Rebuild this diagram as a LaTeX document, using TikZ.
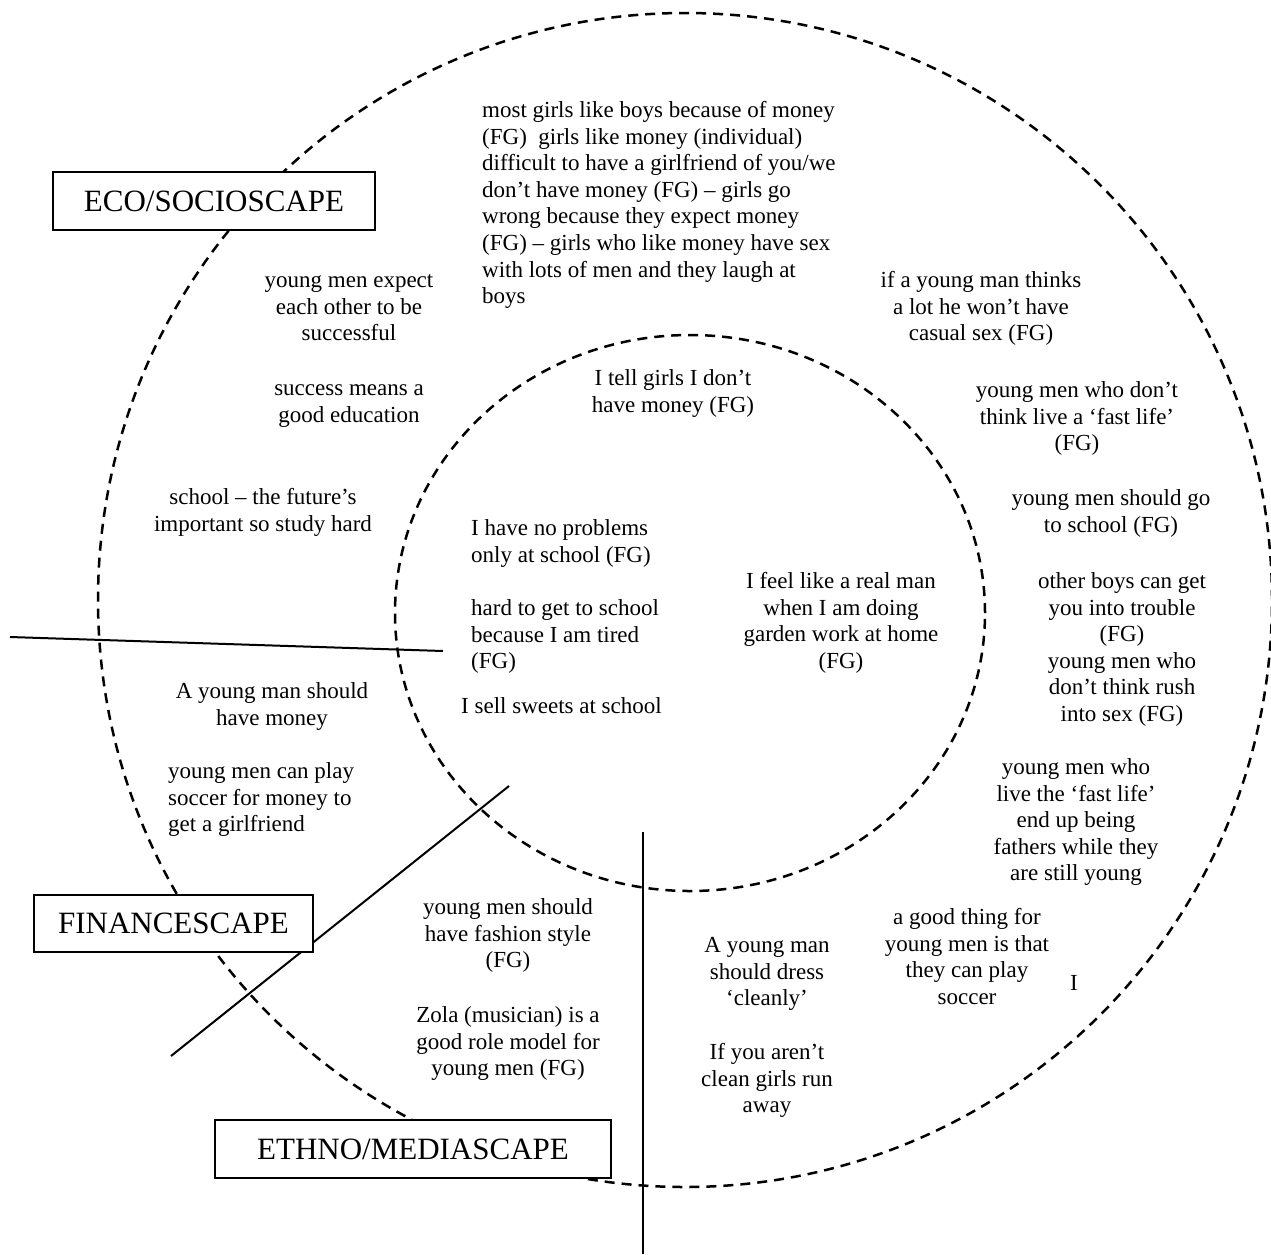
\documentclass[tikz,border=0pt]{standalone}
\usepackage{fontspec}
\setmainfont{Liberation Serif}
\newcommand{\bodyfs}{\fontsize{23}{26.6}\selectfont}
\newcommand{\titlefs}{\fontsize{31}{36}\selectfont}
\begin{document}
\begin{tikzpicture}[x=1pt,y=-1pt,
  ring/.style={draw=black, line width=2.5pt, dash pattern=on 10pt off 7pt},
  divider/.style={draw=black, line width=2pt},
  titlebox/.style={draw=black, fill=white, line width=2.5pt, inner sep=0pt, font=\titlefs, text height=20.5pt, text depth=0pt},
  ctext/.style={inner sep=0pt, anchor=north, align=center, font=\bodyfs},
  ltext/.style={inner sep=0pt, anchor=north west, align=left, font=\bodyfs},
]
\useasboundingbox[fill=white] (0,0) rectangle (1271,1254);

% rings
\coordinate (oc) at (685,600);
\coordinate (ic) at (690,613);
\draw[ring] (oc) ellipse [x radius=587pt, y radius=587pt];
\draw[ring] (ic) ellipse [x radius=295pt, y radius=278pt];

% dividing lines
\coordinate (h1) at (10,637);
\coordinate (h2) at (443,651);
\coordinate (d1) at (171,1056);
\coordinate (d2) at (509,786);
\coordinate (v1) at (643,832);
\coordinate (v2) at (643,1254);
\draw[divider] (h1) -- (h2);
\draw[divider] (d1) -- (d2);
\draw[divider] (v1) -- (v2);

% scape boxes
\node[titlebox, minimum width=322pt, minimum height=58pt] (eco) at (214,201) {ECO/SOCIOSCAPE};
\node[titlebox, minimum width=279pt, minimum height=57pt] (fin) at (173.5,923.5) {FINANCESCAPE};
\node[titlebox, minimum width=396pt, minimum height=58pt] (eth) at (413,1149) {ETHNO/MEDIASCAPE};

% texts
\node[ltext] (t1) at (482,98.6) {\strut most girls like boys because of money\\(FG)~ girls like money (individual)\\difficult to have a girlfriend of you/we\\don’t have money (FG) – girls go\\wrong because they expect money\\(FG) – girls who like money have sex\\with lots of men and they laugh at\\boys};
\node[ctext] (t2) at (349,268.6) {\strut young men expect\\each other to be\\successful};
\node[ctext] (t3) at (349,376.6) {\strut success means a\\good education};
\node[ctext] (t4) at (263,485.6) {\strut school – the future’s\\important so study hard};
\node[ctext] (t5) at (272,679.6) {\strut A young man should\\have money};
\node[ltext] (t6) at (168,759.6) {\strut young men can play\\soccer for money to\\get a girlfriend};
\node[ctext] (t7) at (673,366.6) {\strut I tell girls I don’t\\have money (FG)};
\node[ltext] (t8) at (471,516.6) {\strut I have no problems\\only at school (FG)};
\node[ltext] (t9) at (471,596.6) {\strut hard to get to school\\because I am tired\\(FG)};
\node[ltext] (t10) at (461,694.6) {\strut I sell sweets at school};
\node[ctext] (t11) at (841,569.6) {\strut I feel like a real man\\when I am doing\\garden work at home\\(FG)};
\node[ctext] (t12) at (981,268.6) {\strut if a young man thinks\\a lot he won’t have\\casual sex (FG)};
\node[ctext] (t13) at (1077,378.6) {\strut young men who don’t\\think live a ‘fast life’\\(FG)};
\node[ctext] (t14) at (1111,486.6) {\strut young men should go\\to school (FG)};
\node[ctext] (t15) at (1122,569.6) {\strut other boys can get\\you into trouble\\(FG)\\young men who\\don’t think rush\\into sex (FG)};
\node[ctext] (t16) at (1076,755.6) {\strut young men who\\live the ‘fast life’\\end up being\\fathers while they\\are still young};
\node[ctext] (t17) at (967,905.6) {\strut a good thing for\\young men is that\\they can play\\soccer};
\node[ctext] (t18) at (1074,972) {\strut I};
\node[ctext] (t19) at (767,933.6) {\strut A young man\\should dress\\‘cleanly’};
\node[ctext] (t20) at (767,1040.6) {\strut If you aren’t\\clean girls run\\away};
\node[ctext] (t21) at (508,895.6) {\strut young men should\\have fashion style\\(FG)};
\node[ctext] (t22) at (508,1003.6) {\strut Zola (musician) is a\\good role model for\\young men (FG)};
\end{tikzpicture}
\end{document}
